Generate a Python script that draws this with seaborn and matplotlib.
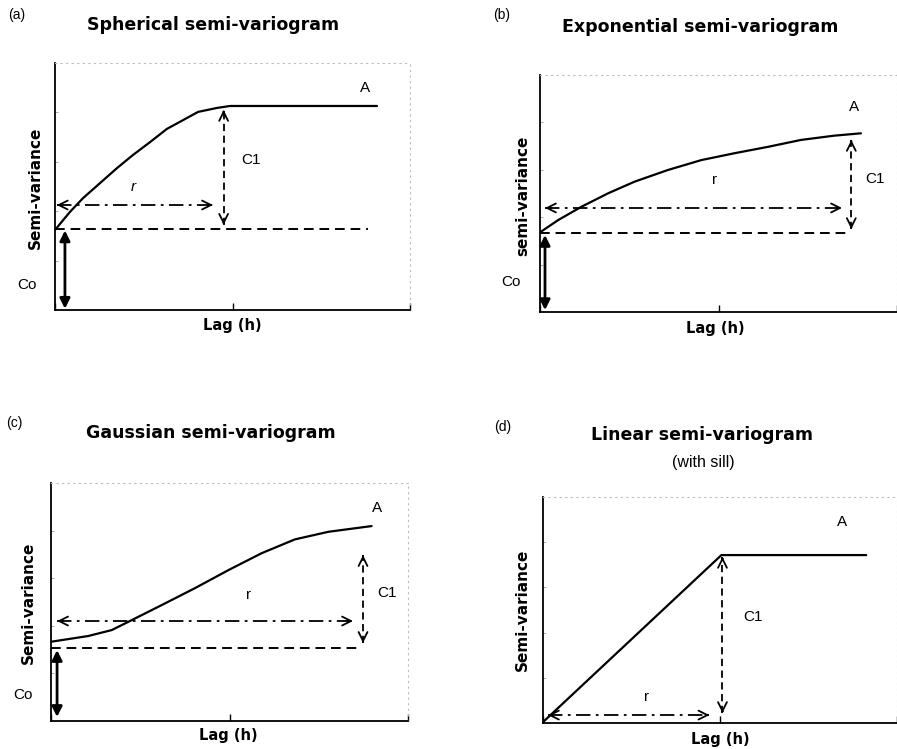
import matplotlib
matplotlib.use("Agg")
import matplotlib.pyplot as plt
import seaborn as sns
import pandas as pd

# ---------------- data (axes scaled 0-100) ----------------
sph_lag = [0, 4.2, 7.9, 12.7, 17.5, 22.0, 26.8, 31.5, 36.1, 40.3, 45.6, 49.3, 90.7]
sph_sv = [32.4, 39.7, 45.3, 51.4, 57.5, 62.8, 68.0, 73.3, 76.9, 80.2, 81.8, 82.6, 82.6]

exp_lag = [0, 5.1, 11.6, 19.1, 26.5, 35.8, 45.2, 54.5, 63.9, 73.1, 82.4, 89.9]
exp_sv = [33.6, 38.8, 44.4, 50.1, 55.0, 59.9, 64.1, 67.0, 69.7, 72.6, 74.4, 75.4]

gau_lag = [0, 10.4, 17.0, 21.7, 31.0, 40.3, 49.7, 59.0, 68.3, 77.7, 89.8]
gau_sv = [33.3, 35.7, 38.2, 41.7, 48.7, 55.8, 63.4, 70.5, 76.3, 79.5, 81.9]

lin_lag = [0, 50.4, 91.3]
lin_sv = [0.4, 74.3, 74.3]

titles = ["Spherical semi-variogram", "Exponential semi-variogram",
          "Gaussian semi-variogram", "Linear semi-variogram"]
letters = ["(a)", "(b)", "(c)", "(d)"]
ylabels = ["Semi-variance", "semi-variance", "Semi-variance", "Semi-variance"]
xlabel = "Lag (h)"

# nugget (Co) level and extent of the dashed nugget line
nugget = [32.6, 33.3, 30.7, None]
nugget_end = [88.2, 87.2, 87.1, None]

sns.set_theme(style="white")
plt.rcParams["font.family"] = ["DejaVu Sans"]
plt.rcParams["text.color"] = "black"
plt.rcParams["axes.labelcolor"] = "black"

W, H = 897, 749
fig = plt.figure(figsize=(W / 100, H / 100), dpi=100)
fig.patch.set_facecolor("white")


def add_ax(left, right, top, bottom):
    return fig.add_axes([left / W, 1 - bottom / H, (right - left) / W, (bottom - top) / H])


def double_arrow(ax, p0, p1, ls, lw=1.3):
    """Patterned shaft with clean open heads at both ends."""
    ax.plot([p0[0], p1[0]], [p0[1], p1[1]], color="black", lw=lw, linestyle=ls,
            solid_capstyle="butt", dash_capstyle="butt")
    for a, b in ((p0, p1), (p1, p0)):
        ax.annotate("", xy=a, xytext=(a[0] + (b[0] - a[0]) * 0.02, a[1] + (b[1] - a[1]) * 0.02),
                    arrowprops=dict(arrowstyle="->", color="black", lw=lw,
                                    shrinkA=0, shrinkB=0, mutation_scale=16))


boxes = [(55, 410, 63, 310), (540, 897, 75, 312), (51, 408, 483, 721), (543, 897, 497, 723)]
curves = [(sph_lag, sph_sv), (exp_lag, exp_sv), (gau_lag, gau_sv), (lin_lag, lin_sv)]

# annotation layout per panel
c1_arrow = [(47.5, 34.5, 81.0), (87.2, 35.0, 72.6), (87.4, 32.8, 69.7), (50.7, 4.4, 73.5)]
r_arrow = [(42.5, 0.5, 44.5), (43.9, 1.4, 84.6), (42.0, 1.7, 84.6), (3.5, 1.4, 47.0)]
co_arrow = [(2.8, 0.5, 32.2), (1.4, 0.8, 32.5), (1.7, 1.7, 29.8), None]
r_pos = [(22.0, 50.0), (48.9, 55.7), (55.2, 52.9), (29.3, 11.5)]
c1_pos = [(55.2, 60.7), (93.9, 56.1), (94.1, 53.8), (59.2, 46.9)]
a_pos = [(87.3, 89.9), (88.0, 86.5), (91.3, 89.5), (84.5, 88.9)]
co_pos = [(-7.9, 10.1), (-8.1, 12.7), (-7.8, 10.9), None]
ylab_pos = [(-0.056, 0.494), (-0.047, 0.49), (-0.062, 0.496), (-0.059, 0.50)]
xlab_pos = [(0.5, -0.061), (0.49, -0.068), (0.496, -0.063), (0.5, -0.075)]

title_pos = [(213, 25), (700, 27), (211, 433), (702, 435)]
letter_pos = [(17, 15), (502, 15), (14, 423), (503, 427)]

ann_font = dict(family="Liberation Sans", fontsize=11, color="black")

for i in range(4):
    ax = add_ax(*boxes[i])
    ax.set_facecolor("white")
    lag, sv = curves[i]
    df = pd.DataFrame({"lag": lag, "sv": sv})
    sns.lineplot(data=df, x="lag", y="sv", ax=ax, color="black", lw=1.6)
    if nugget[i] is not None:
        nd = pd.DataFrame({"lag": [0, nugget_end[i]], "sv": [nugget[i], nugget[i]]})
        sns.lineplot(data=nd, x="lag", y="sv", ax=ax, color="black", lw=1.4,
                     linestyle=(0, (5, 3)))
    ax.set_xlim(0, 100)
    ax.set_ylim(0, 100)

    # spines
    for s in ["left", "bottom"]:
        ax.spines[s].set_color("black")
        ax.spines[s].set_linewidth(1.3)
    for s in ["top", "right"]:
        ax.spines[s].set_color("#bbbbbb")
        ax.spines[s].set_linewidth(0.8)
        ax.spines[s].set_linestyle((0, (1, 4)))

    ax.set_xticks([0, 50, 100])
    ax.set_xticklabels([])
    ax.set_yticks([20, 40, 60, 80])
    ax.set_yticklabels([])
    ax.tick_params(axis="x", direction="in", length=5, width=1, colors="black", bottom=True)
    ax.tick_params(axis="y", direction="in", length=2, width=0.6, colors="#999999", left=True)

    ax.set_xlabel(xlabel, fontweight="bold", fontsize=10.5)
    ax.xaxis.set_label_coords(*xlab_pos[i])
    ax.xaxis.label.set_va("center")
    ax.set_ylabel(ylabels[i], fontweight="bold", fontsize=11)
    ax.yaxis.set_label_coords(*ylab_pos[i])
    ax.yaxis.label.set_va("center")

    # C1 arrow (dashed, open heads)
    x, y0, y1 = c1_arrow[i]
    double_arrow(ax, (x, y0), (x, y1), (0, (4, 2.5)))
    # range arrow (dash-dot)
    y, x0, x1 = r_arrow[i]
    double_arrow(ax, (x0, y), (x1, y), (0, (8, 3, 1.5, 3)))
    # Co arrow (solid, filled heads)
    if co_arrow[i] is not None:
        x, y0, y1 = co_arrow[i]
        ax.annotate("", xy=(x, y1), xytext=(x, y0),
                    arrowprops=dict(arrowstyle="<|-|>", color="black", lw=2,
                                    shrinkA=0, shrinkB=0, mutation_scale=15))
        ax.text(*co_pos[i], "Co", ha="center", va="center", clip_on=False, **ann_font)

    ax.text(*r_pos[i], "r", ha="center", va="center",
            style="italic" if i == 0 else "normal", **ann_font)
    ax.text(*c1_pos[i], "C1", ha="center", va="center", clip_on=False, **ann_font)
    ax.text(*a_pos[i], "A", ha="center", va="center", clip_on=False, **ann_font)

    tx, ty = title_pos[i]
    fig.text(tx / W, 1 - ty / H, titles[i], ha="center", va="center",
             fontweight="bold", fontsize=12.5, color="black")
    lx, ly = letter_pos[i]
    fig.text(lx / W, 1 - ly / H, letters[i], ha="center", va="center",
             family="Liberation Sans", fontsize=10, color="black")

fig.text(703 / W, 1 - 463 / H, "(with sill)", ha="center", va="center",
         family="Liberation Sans", fontsize=11.5, color="black")

fig.savefig("out.png", dpi=100, facecolor="white")
